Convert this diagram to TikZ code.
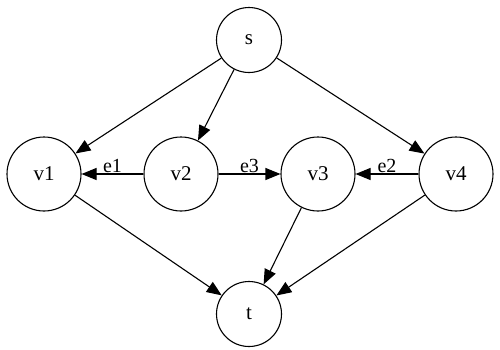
\documentclass[tikz,border=0pt]{standalone}
\usepackage{fontspec}
\setmainfont{Liberation Serif}
\usetikzlibrary{arrows.meta}
\begin{document}
\begin{tikzpicture}[x=1pt,y=-1pt,
  vnode/.style={circle,draw,line width=1.1pt,minimum size=74pt,inner sep=0pt,font=\fontsize{21}{25}\selectfont},
  snode/.style={circle,draw,line width=1.1pt,minimum size=65pt,inner sep=0pt,font=\fontsize{21}{25}\selectfont},
  edge/.style={line width=1.1pt,-{Triangle[length=15pt,width=12pt]}},
  elab/.style={font=\fontsize{20}{23}\selectfont,inner sep=1pt}]
\useasboundingbox (0,0) rectangle (500,349);
\node[snode] (s) at (249,40) {s};
\node[vnode] (v1) at (44,174) {v1};
\node[vnode] (v2) at (181,174) {v2};
\node[vnode] (v3) at (318,174) {v3};
\node[vnode] (v4) at (456,174) {v4};
\node[snode] (t) at (249,314) {t};
\draw[edge] (s) -- (v1);
\draw[edge] (s) -- (v2);
\draw[edge] (s) -- (v4);
\draw[edge] (v2) -- node[elab,above] (l1) {e1} (v1);
\draw[edge] (v2) -- node[elab,above] (l3) {e3} (v3);
\draw[edge] (v4) -- node[elab,above] (l2) {e2} (v3);
\draw[edge] (v1) -- (t);
\draw[edge] (v3) -- (t);
\draw[edge] (v4) -- (t);
\end{tikzpicture}
\end{document}
